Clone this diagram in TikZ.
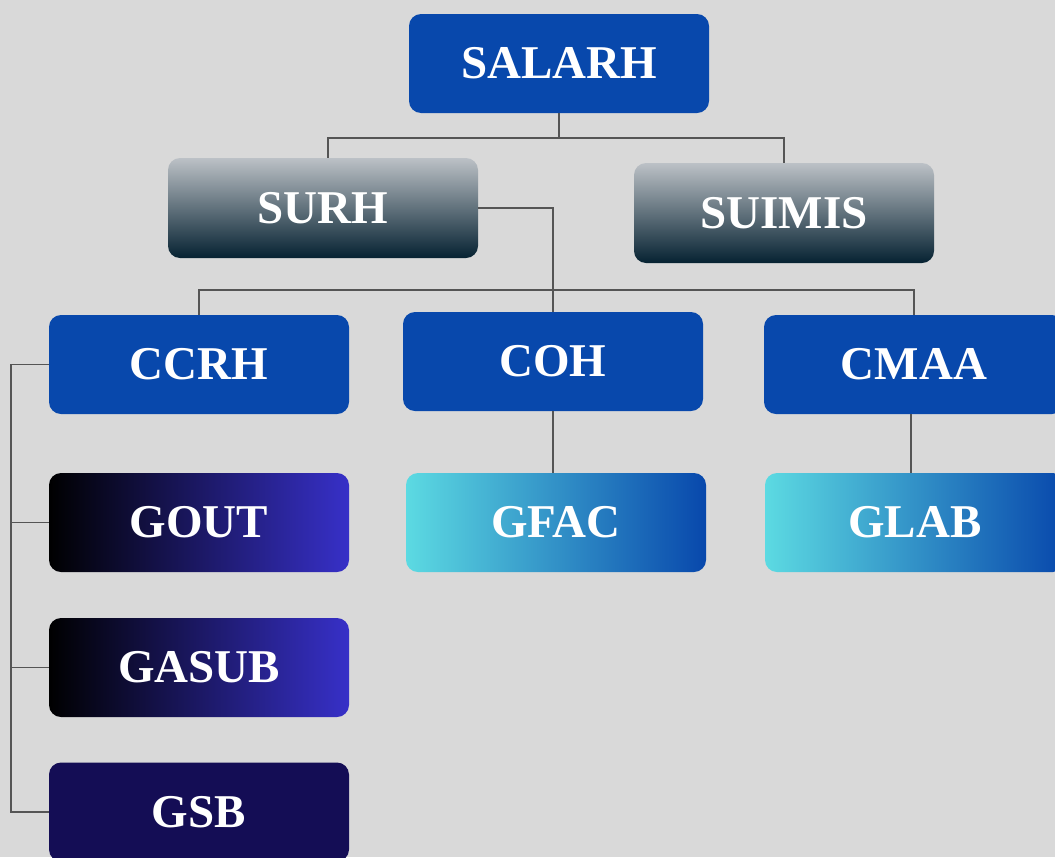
\documentclass[tikz,border=0pt]{standalone}
\usepackage{fontspec}
\setmainfont{Liberation Serif}
\usetikzlibrary{calc}
\usetikzlibrary{positioning}
\definecolor{bgray}{RGB}{217,217,217}
\definecolor{oblue}{RGB}{8,72,172}
\definecolor{sgraytop}{RGB}{188,193,198}
\definecolor{sgraybot}{RGB}{6,34,50}
\definecolor{gviolet}{RGB}{55,48,200}
\definecolor{gcyan}{RGB}{92,218,226}
\definecolor{gnavy}{RGB}{20,13,85}
\definecolor{wire}{RGB}{85,85,85}

\begin{document}
\begin{tikzpicture}[x=1pt, y=-1pt,
  box/.style={rectangle, rounded corners=12pt, minimum width=300pt, minimum height=99pt,
    text=white, font=\fontsize{47}{50}\selectfont\bfseries, inner sep=0pt},
  bluebox/.style={box, fill=oblue},
  greybox/.style={box, top color=sgraytop, bottom color=sgraybot},
  darkbox/.style={box, left color=black, right color=gviolet},
  cyanbox/.style={box, left color=gcyan, right color=oblue},
  link/.style={wire, line width=1.5pt}]
\useasboundingbox (0,0) rectangle (1055,857);
\clip (0,0) rectangle (1055,857);
\fill[bgray] (0,0) rectangle (1055,857);
% top levels
\node[bluebox] (salarh) at (559,63.5) {SALARH};
\node[greybox, minimum width=310pt, minimum height=100pt] (surh) at (323,208) {SURH};
\node[greybox, minimum height=100pt] (suimis) at (784,213) {SUIMIS};
% cells
\node[bluebox] (ccrh) at (199,364.5) {CCRH};
\node[bluebox] (coh) at (553,361.5) {COH};
\node[bluebox] (cmaa) at (914,364.5) {CMAA};
% groups
\node[darkbox] (gout) at (199,522.5) {GOUT};
\node[darkbox] (gasub) at (199,667.5) {GASUB};
\node[box, fill=gnavy] (gsb) at (199,812) {GSB};
\node[cyanbox] (gfac) at (556,522.5) {GFAC};
\node[cyanbox] (glab) at (915,522.5) {GLAB};
% wires
\coordinate (j1) at ($(salarh.south)+(0,25)$);
\coordinate (j2) at (553,290);
\coordinate (j3) at (11,364.5);
\draw[link] (salarh.south) -- (j1);
\draw[link] (j1) -| ($(surh.north)+(5,0)$);
\draw[link] (j1) -| (suimis.north);
\draw[link] (surh.east) -| (coh.north);
\draw[link] (j2) -| (ccrh.north);
\draw[link] (j2) -| (cmaa.north);
\draw[link] (ccrh.west) -- (j3) |- (gsb.west);
\draw[link] (j3) |- (gout.west);
\draw[link] (j3) |- (gasub.west);
\draw[link] (coh.south) -- (coh.south |- gfac.north);
\draw[link] ($(cmaa.south)+(-3,0)$) -- ($(cmaa.south |- glab.north)+(-3,0)$);
\end{tikzpicture}
\end{document}
